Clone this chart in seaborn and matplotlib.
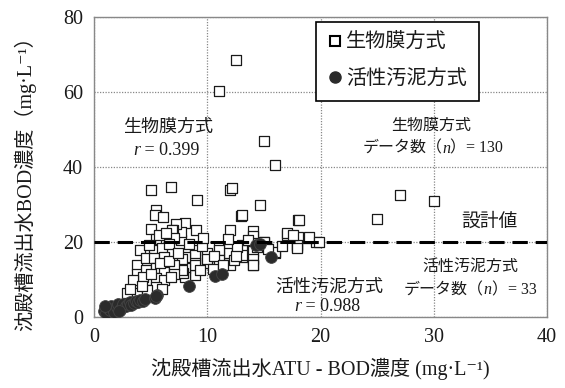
import matplotlib
matplotlib.use("Agg")
import matplotlib.pyplot as plt
from matplotlib.lines import Line2D
from matplotlib.offsetbox import TextArea, HPacker, AnnotationBbox
import seaborn as sns
import pandas as pd

# 生物膜方式: ATU-BOD (x) vs BOD (y), mg/L
biofilm_x = [
    12.5, 11.0, 15.0, 16.0, 5.0, 6.8, 12.0, 9.1, 27.0, 30.0, 25.0, 19.6, 18.9,
    14.7, 13.0, 18.0, 8.05, 9.0, 12.0, 14.0, 14.0, 14.0, 14.0, 14.0, 14.0,
    17.0, 18.0, 17.9, 16.0, 15.0, 14.4, 13.1, 13.1, 13.1, 12.0, 11.7, 11.0,
    11.0, 11.0, 11.0, 10.0, 10.0, 10.0, 8.9, 8.9, 8.9, 8.9, 8.9, 8.05, 8.05,
    8.05, 7.9, 7.8, 7.8, 7.7, 7.7, 7.2, 7.0, 7.0, 5.5, 5.4, 6.1, 5.0, 6.9,
    5.5, 7.1, 4.1, 5.3, 6.0, 3.8, 4.6, 5.3, 6.2, 3.8, 4.6, 5.5, 6.2, 7.1,
    7.1, 4.0, 4.7, 5.5, 6.2, 3.7, 5.5, 2.9, 3.8, 4.7, 6.0, 17.9, 17.9, 19.0,
    19.85, 17.05, 17.6, 18.1, 13.1, 13.1, 14.0, 15.0, 14.5, 16.0, 13.1,
    12.2, 4.3, 5.0, 5.8, 6.6, 6.6, 4.9, 5.7, 6.4, 9.5, 9.4, 10.5, 10.6,
    11.4, 12.4, 12.6, 3.4, 3.2, 4.2, 6.8, 7.4, 8.4, 9.6, 11.8, 12.5, 13.6,
    15.4, 16.6,
]
biofilm_y = [
    68.5, 60.3, 47.0, 40.6, 34.0, 34.7, 34.0, 31.3, 32.5, 30.9, 26.1, 20.1, 21.2,
    30.0, 27.0, 25.8, 25.1, 23.2, 23.2, 23.0, 21.5, 19.8, 17.5, 15.6, 14.0,
    21.9, 21.3, 18.6, 17.2, 20.1, 18.7, 17.0, 19.2, 16.1, 13.9, 17.0, 18.7,
    16.1, 17.8, 15.2, 14.3, 17.0, 15.6, 17.8, 16.5, 14.3, 11.2, 13.9, 16.1, 13.0,
    10.7, 11.7, 15.6, 12.5, 20.5, 22.7, 24.8, 23.2, 21.0, 28.5, 27.2, 26.7, 23.6, 23.2,
    20.8, 21.0, 17.8, 17.8, 18.3, 13.9, 15.7, 15.7, 16.1, 11.6, 12.5, 13.0, 12.1, 13.9,
    11.6, 9.4, 9.9, 10.3, 9.9, 8.1, 8.1, 6.3, 6.3, 7.2, 7.6, 19.2, 18.5, 21.4,
    20.1, 22.3, 21.8, 25.8, 27.2, 17.8, 13.9, 20.1, 19.2, 17.4, 16.5,
    34.3, 10.8, 11.4, 14.5, 15.0, 19.5, 19.3, 22.0, 22.5, 19.0, 12.5, 12.8, 16.4,
    14.0, 15.3, 18.6, 9.8, 7.6, 8.4, 10.6, 17.2, 19.6, 21.2, 20.8, 16.2, 20.6,
    18.2, 19.0,
]

# 活性汚泥方式
sludge_x = [
    0.9, 1.1, 1.2, 1.4, 1.5, 1.7, 1.8, 2.0, 2.1, 2.3, 2.5, 2.6, 2.8, 3.0, 3.2,
    3.3, 3.5, 3.7, 3.9, 4.1, 4.3, 4.5, 1.0, 2.2, 5.4, 5.6, 5.5, 8.4, 10.7,
    11.3, 15.6, 14.3, 14.7,
]
sludge_y = [
    1.6, 1.2, 2.4, 1.8, 3.0, 2.2, 1.4, 2.8, 3.4, 2.0, 2.6, 3.6, 3.0, 3.4, 4.0,
    3.2, 3.8, 4.4, 4.0, 4.6, 4.2, 4.8, 3.0, 1.5, 5.2, 6.0, 5.6, 8.4, 11.0,
    11.4, 15.9, 19.2, 19.6,
]

design_value = 20
x_ticks = [0, 10, 20, 30, 40]
y_ticks = [0, 20, 40, 60, 80]

FAMILY = ["Liberation Serif", "Noto Sans CJK JP", "DejaVu Sans"]
INK = "#1a1a1a"

sns.set_style("white")
plt.rcParams["font.family"] = FAMILY
plt.rcParams["mathtext.fontset"] = "stix"

fig = plt.figure(figsize=(5.65, 3.88), dpi=100)
ax = fig.add_axes([94 / 565, 1 - 317 / 388, 453 / 565, 300 / 388])

df_bio = pd.DataFrame({"x": biofilm_x, "y": biofilm_y})
df_sl = pd.DataFrame({"x": sludge_x, "y": sludge_y})

sns.scatterplot(data=df_bio, x="x", y="y", marker="s", s=44,
                facecolor="white", edgecolor=INK, linewidth=0.9,
                ax=ax, zorder=3, legend=False)
sns.scatterplot(data=df_sl, x="x", y="y", marker="o", s=72,
                color="#2b2b2b", edgecolor="#444444", linewidth=0.6,
                ax=ax, zorder=4, legend=False)

ax.axhline(design_value, color="black", lw=2.2, dashes=(5, 2.6), zorder=5)

ax.set_xlim(0, 40)
ax.set_ylim(0, 80)
ax.set_xticks(x_ticks)
ax.set_yticks(y_ticks)
ax.tick_params(axis="both", length=0, labelsize=14.5, pad=8, labelcolor=INK)
ax.grid(True, color="#888888", linestyle=(0, (1, 1.2)), linewidth=0.9)
for sp in ax.spines.values():
    sp.set_color("#888888")
    sp.set_linewidth(1.0)

ax.set_xlabel("沈殿槽流出水ATU - BOD濃度 (mg·L⁻¹)", fontsize=14.5, labelpad=8,
              color=INK)
ax.set_ylabel("沈殿槽流出水BOD濃度（mg·L⁻¹）", fontsize=14.5, color=INK)
ax.yaxis.set_label_coords(-0.128, 0.46)


def mixed_label(x, y, parts, size):
    """Place a run of text pieces (plain or italic) centred at (x, y)."""
    areas = []
    for s, italic in parts:
        props = dict(fontsize=size, color=INK, family=FAMILY)
        if italic:
            props.update(style="italic", family=["Liberation Serif"])
        areas.append(TextArea(s, textprops=props))
    box = HPacker(children=areas, align="baseline", pad=0, sep=0)
    ab = AnnotationBbox(box, (x, y), xycoords="data", frameon=False,
                        box_alignment=(0.5, 0.5), pad=0, zorder=6)
    ax.add_artist(ab)


mixed_label(6.5, 50.7, [("生物膜方式", False)], 13)
mixed_label(6.4, 44.5, [("r", True), (" = 0.399", False)], 13)
mixed_label(29.8, 50.9, [("生物膜方式", False)], 11.5)
mixed_label(29.9, 44.9, [("データ数（", False), ("n", True), ("）= 130", False)], 11.5)
mixed_label(34.9, 25.4, [("設計値", False)], 13.5)
mixed_label(20.8, 8.0, [("活性汚泥方式", False)], 13)
mixed_label(20.6, 2.9, [("r", True), (" = 0.988", False)], 13)
mixed_label(33.2, 13.3, [("活性汚泥方式", False)], 11.5)
mixed_label(33.2, 7.2, [("データ数（", False), ("n", True), ("）= 33", False)], 11.5)

handles = [
    Line2D([], [], marker="s", linestyle="none", markersize=7,
           markerfacecolor="white", markeredgecolor="black", markeredgewidth=1.5),
    Line2D([], [], marker="o", linestyle="none", markersize=8,
           markerfacecolor="#2b2b2b", markeredgecolor="#2b2b2b"),
]
leg = ax.legend(handles, ["生物膜方式", "活性汚泥方式"], loc="upper left",
                bbox_to_anchor=((316 - 94) / 453, (317 - 22) / 300),
                fontsize=14.5, frameon=True, fancybox=False, framealpha=1,
                handlelength=0.7, handletextpad=0.2, labelspacing=0.85,
                borderpad=0.6, borderaxespad=0)
for t in leg.get_texts():
    t.set_color(INK)
leg.get_frame().set_edgecolor("black")
leg.get_frame().set_linewidth(1.2)
leg.set_zorder(10)

fig.savefig("out.png", dpi=100)
